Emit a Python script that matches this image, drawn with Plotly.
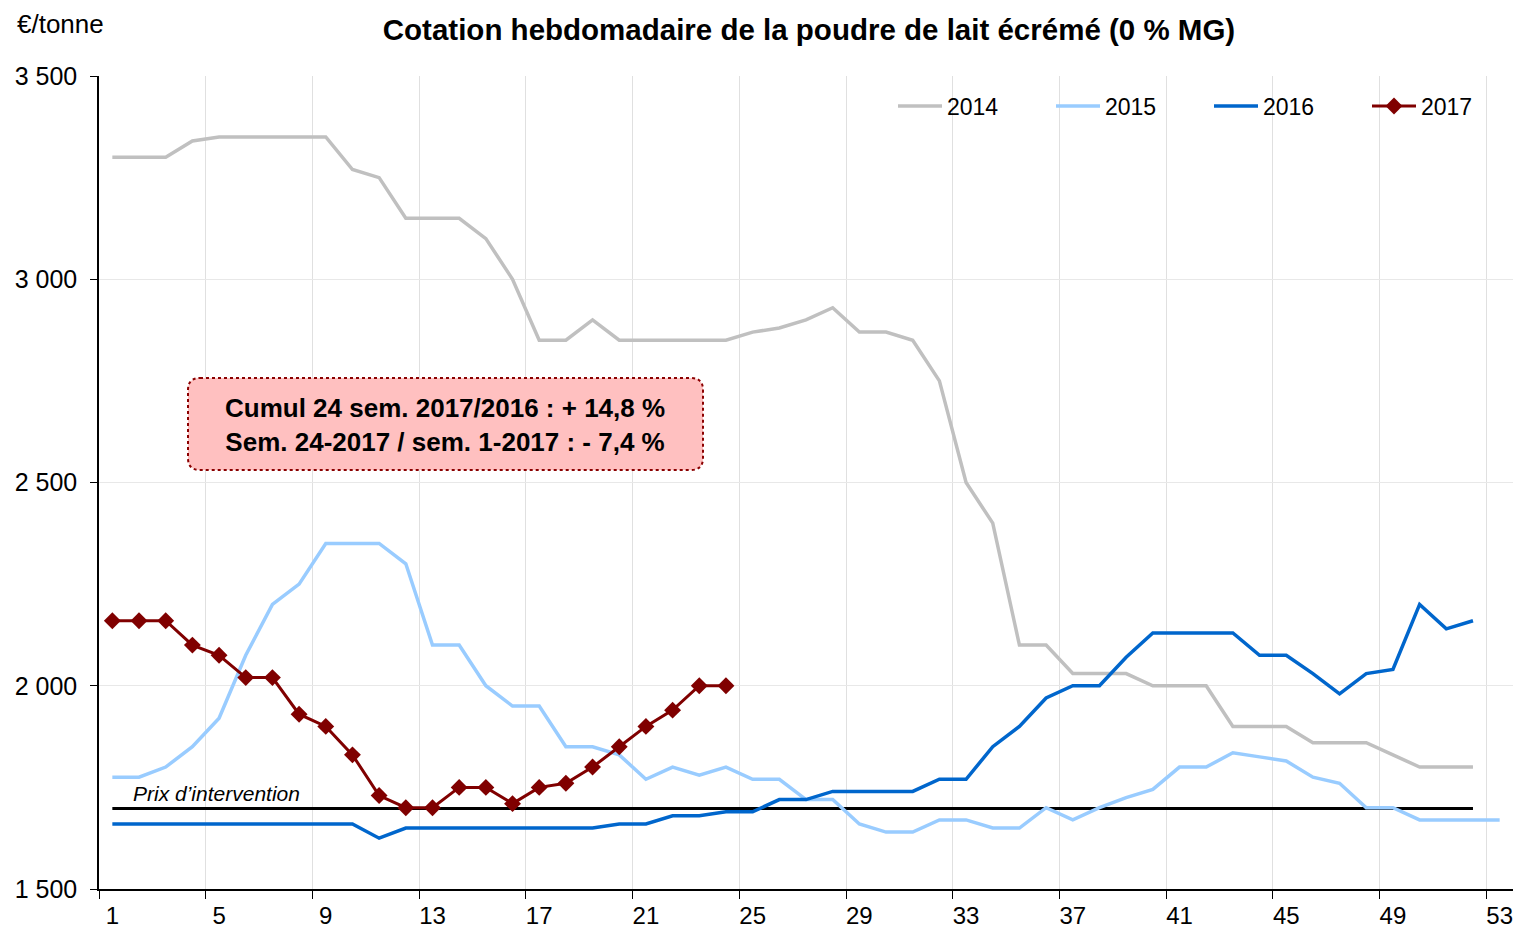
import plotly.graph_objects as go

weeks = list(range(1, 54))

s2014 = [3300, 3300, 3300, 3340, 3350, 3350, 3350, 3350, 3350, 3270,
         3250, 3150, 3150, 3150, 3100, 3000, 2850, 2850, 2900, 2850,
         2850, 2850, 2850, 2850, 2870, 2880, 2900, 2930, 2870, 2870,
         2850, 2750, 2500, 2400, 2100, 2100, 2030, 2030, 2030, 2000,
         2000, 2000, 1900, 1900, 1900, 1860, 1860, 1860, 1830, 1800,
         1800, 1800]
s2015 = [1775, 1775, 1800, 1850, 1920, 2075, 2200, 2250, 2350, 2350,
         2350, 2300, 2100, 2100, 2000, 1950, 1950, 1850, 1850, 1830,
         1770, 1800, 1780, 1800, 1770, 1770, 1720, 1720, 1660, 1640,
         1640, 1670, 1670, 1650, 1650, 1700, 1670, 1700, 1725, 1745,
         1800, 1800, 1835, 1825, 1815, 1775, 1760, 1700, 1700, 1670,
         1670, 1670, 1670]
s2016 = [1660, 1660, 1660, 1660, 1660, 1660, 1660, 1660, 1660, 1660,
         1625, 1650, 1650, 1650, 1650, 1650, 1650, 1650, 1650, 1660,
         1660, 1680, 1680, 1690, 1690, 1720, 1720, 1740, 1740, 1740,
         1740, 1770, 1770, 1850, 1900, 1970, 2000, 2000, 2070, 2130,
         2130, 2130, 2130, 2075, 2075, 2030, 1980, 2030, 2040, 2200,
         2140, 2160]
s2017 = [2160, 2160, 2160, 2100, 2075, 2020, 2020, 1930, 1900, 1830,
         1730, 1700, 1700, 1750, 1750, 1710, 1750, 1760, 1800, 1850,
         1900, 1940, 2000, 2000]
intervention_price = 1698
intervention_weeks = list(range(1, 53))

series_names = ["2014", "2015", "2016", "2017"]
x_tick_labels = [str(w) for w in range(1, 54, 4)]
y_tick_vals = [1500, 2000, 2500, 3000, 3500]
y_tick_labels = ["1 500", "2 000", "2 500", "3 000", "3 500"]

title_text = "Cotation hebdomadaire de la poudre de lait écrémé (0 % MG)"
unit_text = "€/tonne"
box_lines = ["Cumul 24 sem. 2017/2016 : + 14,8 %", "Sem. 24-2017 / sem. 1-2017 : - 7,4 %"]
interv_label = "Prix d’intervention"

# ---------------- layout geometry ----------------
W, H = 1520, 932
L, R, T, B = 99, 7, 76, 43
PW, PH = W - L - R, H - T - B
FONT = "Arial, Liberation Sans, sans-serif"


def px(x):
    return (x - L) / PW


def py(y):
    return (H - B - y) / PH


fig = go.Figure()

fig.add_trace(go.Scatter(x=intervention_weeks, y=[intervention_price] * len(intervention_weeks),
                         mode="lines", line=dict(color="#000000", width=3.2),
                         showlegend=False, hoverinfo="skip"))

fig.add_trace(go.Scatter(x=weeks[:len(s2014)], y=s2014, name=series_names[0], mode="lines",
                         line=dict(color="#C0C0C0", width=3.5)))
fig.add_trace(go.Scatter(x=weeks[:len(s2015)], y=s2015, name=series_names[1], mode="lines",
                         line=dict(color="#99CCFF", width=3.5)))
fig.add_trace(go.Scatter(x=weeks[:len(s2016)], y=s2016, name=series_names[2], mode="lines",
                         line=dict(color="#0066CC", width=3.5)))
fig.add_trace(go.Scatter(x=weeks[:len(s2017)], y=s2017, name=series_names[3], mode="lines+markers",
                         line=dict(color="#800000", width=3),
                         marker=dict(symbol="diamond", size=13, color="#800000")))

# rounded dotted box
x0, x1 = px(188), px(703)
yt, yb = py(378), py(470)
rx, ry = 12 / PW, 12 / PH
path = (f"M {x0+rx},{yt} L {x1-rx},{yt} Q {x1},{yt} {x1},{yt-ry} "
        f"L {x1},{yb+ry} Q {x1},{yb} {x1-rx},{yb} "
        f"L {x0+rx},{yb} Q {x0},{yb} {x0},{yb+ry} "
        f"L {x0},{yt-ry} Q {x0},{yt} {x0+rx},{yt} Z")
fig.add_shape(type="path", path=path, xref="paper", yref="paper",
              fillcolor="#FFC0C0", line=dict(color="#8B0000", width=2, dash="dot"), layer="above")

fig.add_annotation(x=px(445), y=py(425), xref="paper", yref="paper",
                   text="<br>".join(f"<b>{t}</b>" for t in box_lines), showarrow=False,
                   font=dict(family=FONT, size=26, color="#000000"), align="center",
                   xanchor="center", yanchor="middle")

fig.add_annotation(x=px(131), y=py(793), xref="paper", yref="paper", text=interv_label,
                   showarrow=False, font=dict(family=FONT, size=21, color="#000000", style="italic"),
                   xanchor="left", yanchor="middle")

fig.add_annotation(x=px(15), y=py(24), xref="paper", yref="paper", text=unit_text,
                   showarrow=False, font=dict(family=FONT, size=26, color="#000000"),
                   xanchor="left", yanchor="middle")

fig.update_layout(
    width=W, height=H,
    margin=dict(l=L, r=R, t=T, b=B, pad=0, autoexpand=False),
    paper_bgcolor="#FFFFFF", plot_bgcolor="#FFFFFF",
    font=dict(family=FONT, color="#000000"),
    title=dict(text=f"<b>{title_text}</b>", x=809 / W, xref="container", xanchor="center",
               y=1 - 30 / H, yref="container", yanchor="middle",
               font=dict(family=FONT, size=29.5, color="#000000")),
    showlegend=True,
    legend=dict(orientation="h", x=px(893), y=py(106), xref="paper", yref="paper",
                xanchor="left", yanchor="middle", bgcolor="rgba(0,0,0,0)",
                font=dict(family=FONT, size=23, color="#000000"),
                entrywidth=99, itemwidth=44, tracegroupgap=0, traceorder="normal"),
    xaxis=dict(range=[0.5, 53.5], tickmode="array", tickvals=list(range(1, 54, 4)),
               ticktext=x_tick_labels, ticks="", showgrid=False, zeroline=False,
               showline=True, linecolor="#000000", linewidth=1.5,
               tickfont=dict(family=FONT, size=24, color="#000000"), ticklabelstandoff=4,
               minor=dict(tickmode="array", tickvals=[0.5 + 4 * k for k in range(14)],
                          ticks="outside", ticklen=8, tickcolor="#000000", tickwidth=1,
                          showgrid=True, gridcolor="#E0E0E0", gridwidth=1)),
    yaxis=dict(range=[1500, 3500], tickmode="array", tickvals=y_tick_vals, ticktext=y_tick_labels,
               ticks="outside", ticklen=7, tickcolor="#000000", tickwidth=1,
               showgrid=True, gridcolor="#E8E8E8", gridwidth=1, zeroline=False,
               showline=True, linecolor="#000000", linewidth=1.5,
               tickfont=dict(family=FONT, size=25, color="#000000"), ticklabelstandoff=8),
)

fig.write_html("out.html", config={"displayModeBar": False},
               post_script="document.body.style.margin='0';document.body.style.overflow='hidden';")
